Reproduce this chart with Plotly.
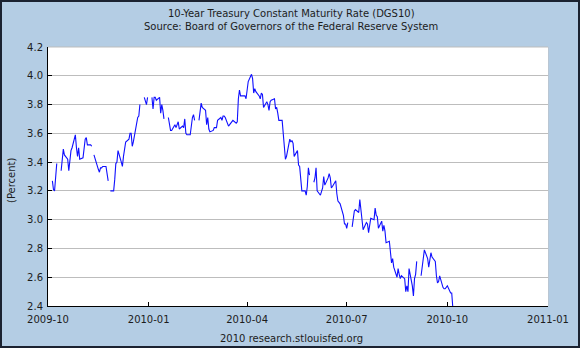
import pandas as pd
import plotly.graph_objects as go

# ---- data (percent), business days; None = market holiday (gap) ----
oct_2009 = [3.27, 3.21, 3.20, 3.28, 3.39, None, 3.34, 3.43, 3.49, 3.45, 3.42, 3.34, 3.41, 3.48, 3.50,
            3.59, 3.50, 3.44, 3.50, 3.42]
nov_2009 = [3.43, 3.49, 3.56, 3.57, 3.52, 3.52, 3.51, None, 3.45, 3.42, 3.35, 3.33, 3.36, 3.36, 3.37,
            3.37, 3.30, 3.27, None, 3.20, 3.20]
dec_2009 = [3.28, 3.39, 3.40, 3.48, 3.40, 3.37, 3.44, 3.50, 3.54, 3.56, 3.60, 3.60, 3.51, 3.54, 3.69,
            3.71, 3.72, 3.80, None, 3.85, 3.82, 3.80, 3.85]
jan_2010 = [None, 3.85, 3.77, 3.85, 3.85, 3.83, 3.85, 3.74, 3.80, 3.76, 3.70, None, 3.71, 3.66, 3.62,
            3.62, 3.66, 3.64, 3.67, 3.68, 3.63]
feb_2010 = [3.65, 3.64, 3.70, 3.60, 3.59, 3.59, 3.67, 3.71, 3.73, 3.69, None, 3.69, 3.76, 3.81, 3.78,
            3.76, 3.66, 3.71, 3.63, 3.61]
mar_2010 = [3.62, 3.64, 3.64, 3.64, 3.69, 3.71, 3.69, 3.72, 3.72, 3.71, 3.65, 3.66, 3.67, 3.68, 3.69,
            3.67, 3.68, 3.84, 3.90, 3.86, 3.86, 3.86, 3.84]
apr_2010 = [3.89, 3.96, 4.01, 3.98, 3.88, 3.91, 3.89, 3.86, 3.84, 3.88, 3.87, 3.78, 3.82, 3.80, 3.76,
            3.82, 3.83, 3.84, 3.77, 3.78, 3.74, 3.69]
may_2010 = [3.69, 3.60, 3.57, 3.42, 3.44, 3.56, 3.54, 3.55, 3.53, 3.44, 3.48, 3.38, 3.37, 3.25, 3.20,
            3.20, 3.17, 3.23, 3.36, 3.31, None]
jun_2010 = [3.26, 3.29, 3.36, 3.20, 3.17, 3.19, 3.22, 3.30, 3.24, 3.29, 3.32, 3.29, 3.22, 3.23, 3.27,
            3.18, 3.13, 3.12, 3.11, 3.03, 2.97, 2.97]
jul_2010 = [2.94, 2.98, None, 2.95, 3.01, 3.06, 3.07, 3.05, 3.14, 3.07, 2.99, 2.93, 2.98, 2.97, 2.91,
            2.98, 3.01, 3.00, 3.08, 3.03, 3.02, 2.94]
aug_2010 = [2.99, 2.92, 2.96, 2.92, 2.84, 2.85, 2.77, 2.70, 2.73, 2.67, 2.60, 2.66, 2.62, 2.59, 2.61,
            2.59, 2.50, 2.54, 2.50, 2.66, 2.54, 2.47]
sep_2010 = [2.59, 2.62, 2.71, None, 2.61, 2.67, 2.74, 2.79, 2.73, 2.67, 2.72, 2.77, 2.74, 2.71, 2.61,
            2.56, 2.57, 2.61, 2.53, 2.52, 2.52, 2.53]
oct_2010 = [2.54, 2.49, 2.49, 2.39]

month_starts = ["2009-10-05", "2009-11-01", "2009-12-01", "2010-01-01", "2010-02-01", "2010-03-01",
                "2010-04-01", "2010-05-01", "2010-06-01", "2010-07-01", "2010-08-01", "2010-09-01",
                "2010-10-01"]
month_values = [oct_2009, nov_2009, dec_2009, jan_2010, feb_2010, mar_2010, apr_2010, may_2010,
                jun_2010, jul_2010, aug_2010, sep_2010, oct_2010]

x_tick_dates = ["2009-10-01", "2010-01-01", "2010-04-01", "2010-07-01", "2010-10-01", "2011-01-01"]
x_tick_labels = ["2009-10", "2010-01", "2010-04", "2010-07", "2010-10", "2011-01"]
y_tick_values = [2.4, 2.6, 2.8, 3.0, 3.2, 3.4, 3.6, 3.8, 4.0, 4.2]
y_tick_labels = ["2.4", "2.6", "2.8", "3.0", "3.2", "3.4", "3.6", "3.8", "4.0", "4.2"]

title_line1 = "10-Year Treasury Constant Maturity Rate (DGS10)"
title_line2 = "Source: Board of Governors of the Federal Reserve System"
footer_text = "2010 research.stlouisfed.org"
y_title = "(Percent)"

# ---- assemble dates ----
dates, rates = [], []
for start, vals in zip(month_starts, month_values):
    s = pd.Timestamp(start)
    end = (s + pd.offsets.MonthEnd(0))
    days = pd.bdate_range(s, end)[:len(vals)]
    assert len(days) == len(vals), (start, len(days), len(vals))
    dates.extend(days)
    rates.extend(vals)

# ---- layout geometry ----
W, H = 580, 348
L, R, T, B = 48, 32, 47, 42
PW, PH = W - L - R, H - T - B

def px_x(x):
    return (x - L) / PW

def px_y(y):
    return (H - B - y) / PH

BG = "rgb(180,205,228)"
TXT = "#1c1c1c"
FONT = "DejaVu Sans"

fig = go.Figure()
fig.add_trace(go.Scatter(
    x=dates, y=rates, mode="lines",
    line=dict(color="#1010ff", width=1.1),
    connectgaps=False, hoverinfo="skip",
))

fig.update_layout(
    width=W, height=H,
    margin=dict(l=L, r=R, t=T, b=B, pad=0),
    paper_bgcolor=BG, plot_bgcolor="white",
    showlegend=False,
    font=dict(family=FONT, size=10, color=TXT),
    xaxis=dict(
        type="date", range=["2009-10-01", "2011-01-01"],
        tickvals=x_tick_dates, ticktext=x_tick_labels,
        ticks="inside", ticklen=4, tickcolor="black", tickwidth=1,
        showline=True, linecolor="black", linewidth=1,
        showgrid=False, zeroline=False, ticklabelstandoff=4,
        tickfont=dict(family=FONT, size=10, color=TXT),
    ),
    yaxis=dict(
        range=[2.4, 4.2],
        tickvals=y_tick_values, ticktext=y_tick_labels,
        ticks="inside", ticklen=4, tickcolor="black", tickwidth=1,
        showline=True, linecolor="black", linewidth=1,
        showgrid=True, gridcolor="#BDBDBD", gridwidth=1,
        zeroline=False, ticklabelstandoff=2,
        tickfont=dict(family=FONT, size=10, color=TXT),
    ),
    shapes=[
        dict(type="line", xref="paper", yref="paper", x0=0, x1=1, y0=1, y1=1,
             line=dict(color="#BDBDBD", width=1)),
        dict(type="line", xref="paper", yref="paper", x0=px_x(548.5), x1=px_x(548.5), y0=0, y1=1,
             line=dict(color="#B9C6D3", width=1)),
        dict(type="rect", xref="paper", yref="paper",
             x0=px_x(1), x1=px_x(579), y0=px_y(347), y1=px_y(1),
             line=dict(color="#1b2230", width=2), fillcolor="rgba(0,0,0,0)"),
    ],
    annotations=[
        dict(text=title_line1, xref="paper", yref="paper", x=px_x(291), y=px_y(13),
             showarrow=False, xanchor="center", yanchor="middle",
             font=dict(family=FONT, size=10, color=TXT)),
        dict(text=title_line2, xref="paper", yref="paper", x=px_x(291), y=px_y(27),
             showarrow=False, xanchor="center", yanchor="middle",
             font=dict(family=FONT, size=10, color=TXT)),
        dict(text=footer_text, xref="paper", yref="paper", x=px_x(291), y=px_y(338.5),
             showarrow=False, xanchor="center", yanchor="middle",
             font=dict(family=FONT, size=10, color=TXT)),
        dict(text=y_title, xref="paper", yref="paper", x=px_x(11), y=px_y(180),
             showarrow=False, xanchor="center", yanchor="middle", textangle=-90,
             font=dict(family=FONT, size=10, color=TXT)),
    ],
)

fig.write_html("out.html")
